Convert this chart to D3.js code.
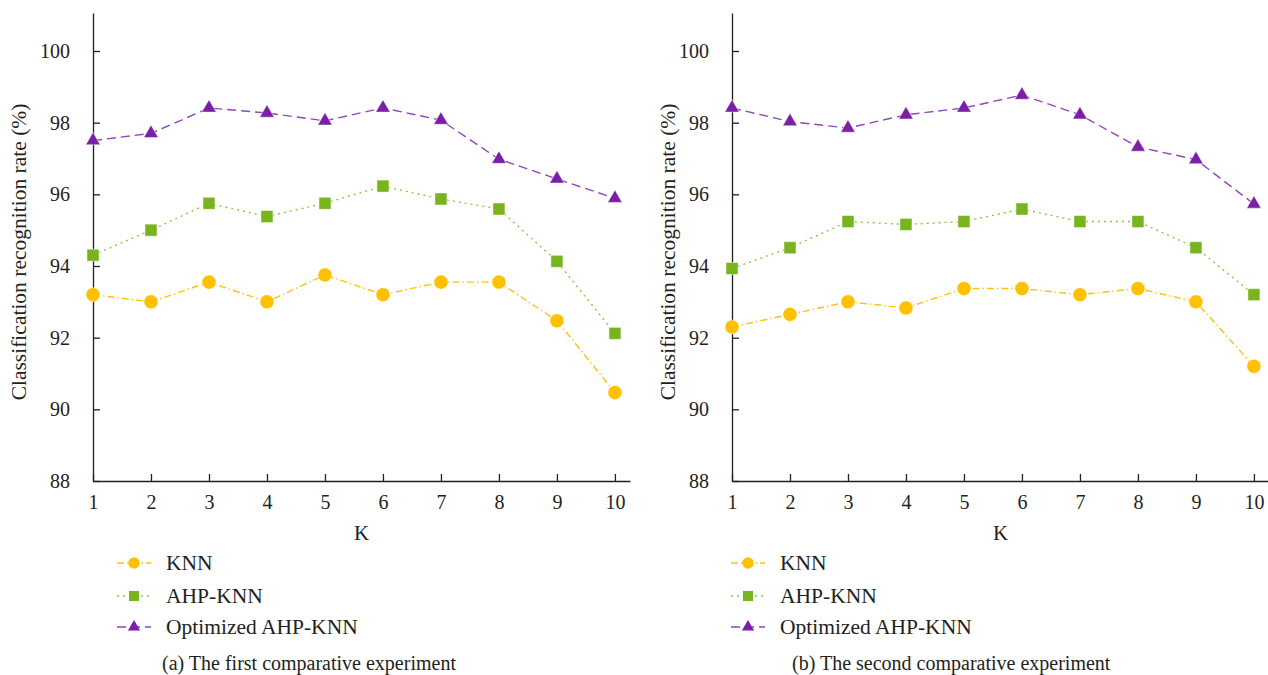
<!DOCTYPE html>
<html>
<head>
<meta charset="utf-8">
<script src="https://cdn.jsdelivr.net/npm/d3@7"></script>
<style>
  body { margin: 0; background: #fff; }
  text { font-family: "Liberation Serif", "Times New Roman", serif; fill: #231f20; }
  .eje path, .eje line { stroke: #231f20; stroke-width: 1.3; }
  .eje text { font-size: 20px; fill: #231f20; }
</style>
</head>
<body>
<div id="graf"></div>
<script>
// I. Datos

const kValues = [1, 2, 3, 4, 5, 6, 7, 8, 9, 10]
const yTicks = [88, 90, 92, 94, 96, 98, 100]

// (a) primer experimento
const knnA = [93.2, 93.0, 93.55, 93.0, 93.75, 93.2, 93.55, 93.55, 92.47, 90.47]
const ahpA = [94.3, 95.0, 95.75, 95.38, 95.75, 96.23, 95.87, 95.59, 94.13, 92.12]
const optA = [97.5, 97.7, 98.41, 98.27, 98.05, 98.41, 98.07, 96.98, 96.43, 95.89]

// (b) segundo experimento
const knnB = [92.3, 92.65, 93.0, 92.83, 93.37, 93.37, 93.2, 93.37, 93.0, 91.2]
const ahpB = [93.93, 94.51, 95.24, 95.16, 95.24, 95.59, 95.24, 95.24, 94.51, 93.2]
const optB = [98.41, 98.03, 97.85, 98.22, 98.41, 98.77, 98.22, 97.32, 96.97, 95.73]

const seriesNames = ['KNN', 'AHP-KNN', 'Optimized AHP-KNN']
const captions = ['(a) The first comparative experiment', '(b) The second comparative experiment']
const xTitle = 'K'
const yTitle = 'Classification recognition rate (%)'

// II. Configuracion

const ancho_total = 1268
const alto_total = 675

const estilos = [
  { fill: '#ffc000', line: '#ffc20e', dash: '7,3,1.5,3', symbol: d3.symbolCircle, size: 155, legSize: 105 },
  { fill: '#78b41e', line: '#8dc63f', dash: '2,4', symbol: d3.symbolSquare, size: 144, legSize: 100 },
  { fill: '#7b1fa6', line: '#9146be', dash: '9,5', symbol: d3.symbolTriangle, size: 90, legSize: 64 }
]

const svg = d3.select('#graf').append('svg')
  .attr('width', ancho_total)
  .attr('height', alto_total)
  .style('background', '#fff')

// III. Render de cada panel

function panel(p, series) {
  const g = svg.append('g')

  const x = d3.scaleLinear()
    .domain([1, 10.26])
    .range([p.x0, p.x0 + 537])

  const y = d3.scaleLinear()
    .domain([88, 101.06])
    .range([481, 13])

  g.append('g')
    .attr('class', 'eje')
    .attr('transform', 'translate(0, 481)')
    .call(d3.axisBottom(x).tickValues(kValues).tickSizeInner(-7).tickSizeOuter(0).tickPadding(14))

  g.append('g')
    .attr('class', 'eje')
    .attr('transform', `translate(${ p.x0 }, 0)`)
    .call(d3.axisLeft(y).tickValues(yTicks).tickSizeInner(-7).tickSizeOuter(0).tickPadding(23))

  // titulos de ejes
  g.append('text')
    .attr('x', (p.x0 + p.x0 + 537) / 2)
    .attr('y', 540)
    .attr('text-anchor', 'middle')
    .style('font-size', '21px')
    .text(xTitle)

  g.append('text')
    .attr('transform', `translate(${ p.yLab }, 252) rotate(-90)`)
    .attr('text-anchor', 'middle')
    .style('font-size', '21.5px')
    .text(yTitle)

  // lineas y marcadores
  series.forEach((vals, i) => {
    const st = estilos[i]
    const pts = kValues.map((k, j) => [k, vals[j]])

    const linea = d3.line()
      .x(d => x(d[0]))
      .y(d => y(d[1]))

    g.append('path')
      .attr('d', linea(pts))
      .attr('fill', 'none')
      .attr('stroke', st.line)
      .attr('stroke-width', 1.4)
      .attr('stroke-dasharray', st.dash)

    g.selectAll('.m' + i)
      .data(pts)
      .enter()
      .append('path')
      .attr('class', 'm' + i)
      .attr('transform', d => `translate(${ x(d[0]) }, ${ y(d[1]) })`)
      .attr('d', d3.symbol().type(st.symbol).size(st.size))
      .attr('fill', st.fill)
      .attr('stroke', '#fff')
      .attr('stroke-opacity', 0.6)
      .attr('stroke-width', 0.8)
  })

  // leyenda
  const leg = g.append('g')
  const filas = [563, 596, 627]
  seriesNames.forEach((name, i) => {
    const st = estilos[i]
    leg.append('line')
      .attr('x1', p.legX - 17).attr('x2', p.legX + 17)
      .attr('y1', filas[i]).attr('y2', filas[i])
      .attr('stroke', st.line)
      .attr('stroke-width', 1.4)
      .attr('stroke-dasharray', st.dash)
    leg.append('path')
      .attr('transform', `translate(${ p.legX }, ${ filas[i] })`)
      .attr('d', d3.symbol().type(st.symbol).size(st.legSize))
      .attr('fill', st.fill)
    leg.append('text')
      .attr('x', p.legX + 32)
      .attr('y', filas[i] + 7)
      .style('font-size', '21.5px')
      .text(name)
  })

  g.append('text')
    .attr('x', p.capX)
    .attr('y', 670)
    .style('font-size', '20px')
    .text(p.caption)
}

// IV. Despliegue

panel({ x0: 93, yLab: 26, legX: 134, capX: 162, caption: captions[0] }, [knnA, ahpA, optA])
panel({ x0: 732, yLab: 675, legX: 748, capX: 792, caption: captions[1] }, [knnB, ahpB, optB])
</script>
</body>
</html>
